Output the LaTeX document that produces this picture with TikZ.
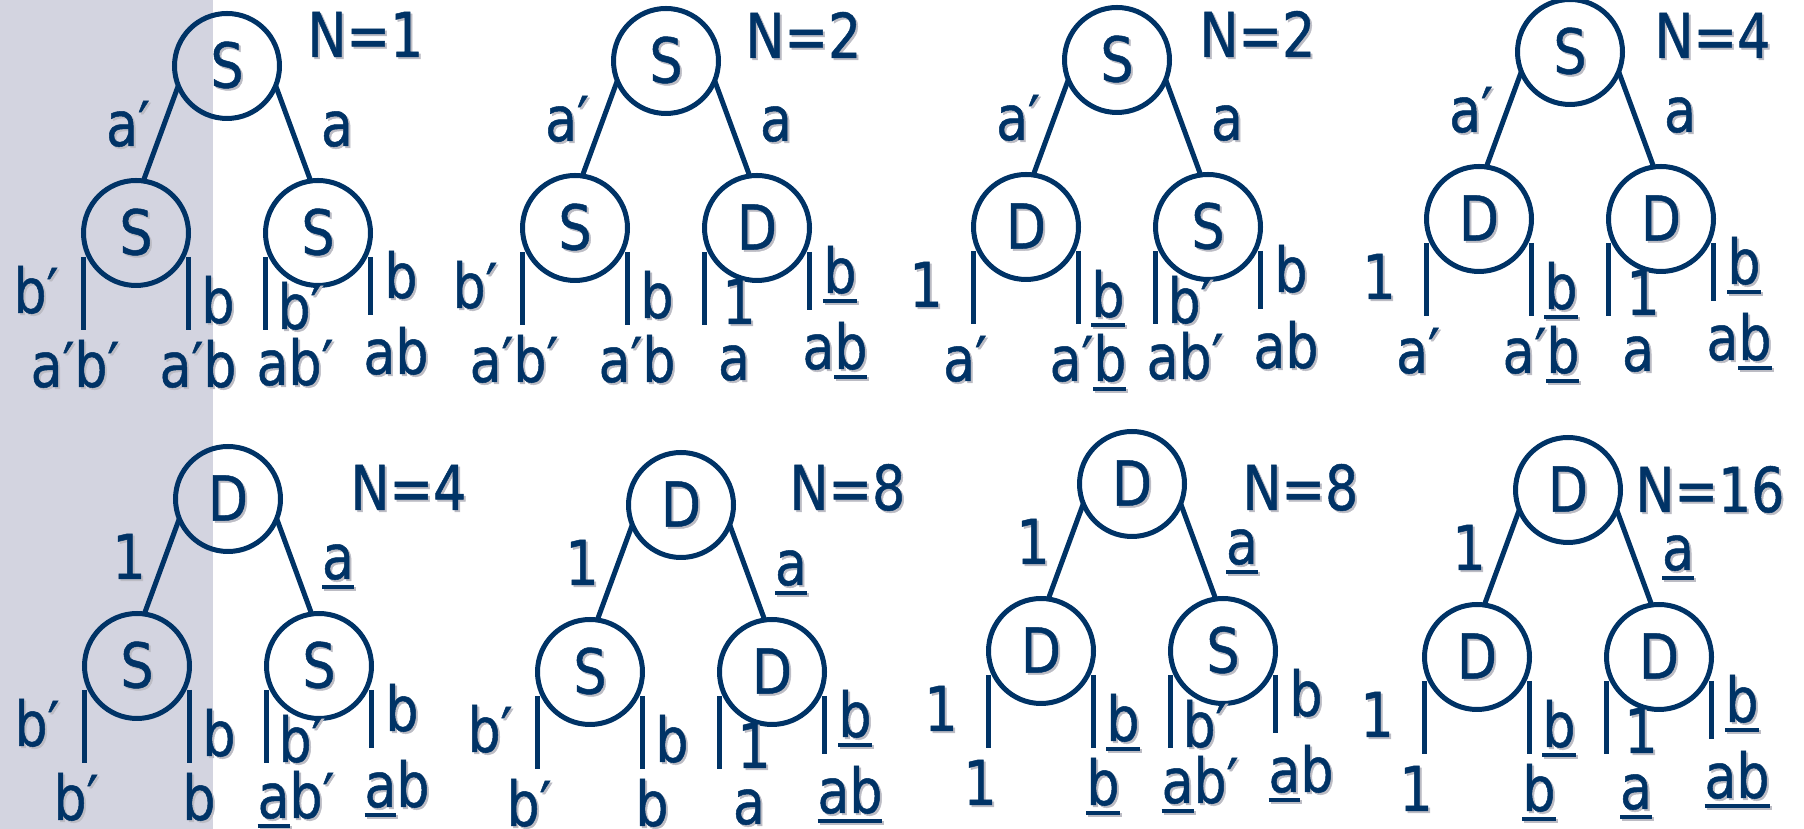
\documentclass[tikz,border=0pt]{standalone}
\usepackage{fontspec}
\setmainfont{DejaVu Sans}[FakeStretch=0.84,FakeBold=0.8]
\usetikzlibrary{positioning}
\definecolor{navyc}{RGB}{0,51,102}
\definecolor{shadowc}{RGB}{188,188,196}
\definecolor{bandc}{RGB}{211,212,224}
\newcommand\treefont{\fontsize{62}{62}\selectfont}
% text with a small grey drop shadow
\newcommand\shd[1]{\makebox[0pt][l]{\kern2pt\raisebox{-2pt}{\color{shadowc}#1}}#1}
\newcommand\ul[1]{\setbox0\hbox{#1}\rlap{\vrule height -6pt depth 10pt width \wd0}\box0}
\tikzset{
  vtx/.style={circle,draw=navyc,line width=5pt,minimum size=105pt,inner sep=0pt,outer sep=0pt,text=navyc,font=\treefont},
  lbl/.style={inner sep=0pt,anchor=base,text=navyc,font=\treefont}
}
\begin{document}
\begin{tikzpicture}[x=1pt,y=1pt,line width=5pt]
\fill[bandc] (0,0) rectangle (213,829);
\useasboundingbox (0,0) rectangle (1804,829);
\foreach \i/\x/\y/\nx/\ny/\n/\r/\p/\q/\ea/\eb/\la/\lb/\lc/\ld/\fa/\fb/\fc/\fd in {
  1/227/763/305/772/N=1/S/S/S/a′/a/b′/b/b′/b/a′b′/a′b/ab′/ab,
  2/666/768/743/771/N=2/S/S/D/a′/a/b′/b/1/\ul{b}/a′b′/a′b/a/a\ul{b},
  3/1117/769/1197/772/N=2/S/D/S/a′/a/1/\ul{b}/b′/b/a′/a′\ul{b}/ab′/ab,
  4/1570/777/1652/771/N=4/S/D/D/a′/a/1/\ul{b}/1/\ul{b}/a′/a′\ul{b}/a/a\ul{b},
  5/228/330/348/319/N=4/D/S/S/1/\ul{a}/b′/b/b′/b/b′/b/\ul{a}b′/\ul{a}b,
  6/681/324/787/319/N=8/D/S/D/1/\ul{a}/b′/b/1/\ul{b}/b′/b/\ul{a}/\ul{ab},
  7/1132/345/1240/319/N=8/D/D/S/1/\ul{a}/1/\ul{b}/b′/b/1/\ul{b}/\ul{a}b′/\ul{a}b,
  8/1568/339/1633/317/N=16/D/D/D/1/\ul{a}/1/\ul{b}/1/\ul{b}/1/\ul{b}/\ul{a}/\ul{ab}} {
  \node[vtx] (s\i) at (\x,\y) {\shd{\r}};
  \node[vtx,on grid,below left=167pt and 91pt of s\i] (u\i) {\shd{\p}};
  \node[vtx,on grid,below right=167pt and 91pt of s\i] (v\i) {\shd{\q}};
  \draw[navyc] (s\i.202) -- (u\i.82);
  \draw[navyc] (s\i.338) -- (v\i.98);
  % legs
  \draw[navyc] ([yshift=-24pt]u\i.west) -- ([yshift=-97pt]u\i.west);
  \draw[navyc] ([yshift=-24pt]u\i.east) -- ([yshift=-97pt]u\i.east);
  \draw[navyc] ([yshift=-24pt]v\i.west) -- ([yshift=-97pt]v\i.west);
  \draw[navyc] ([yshift=-24pt]v\i.east) -- ([yshift=-82pt]v\i.east);
  \node[lbl,anchor=base west] (n\i) at (\nx,\ny) {\shd{\n}};
  \node[lbl] (ea\i) at ([shift={(-99,-80)}]s\i) {\shd{\ea}};
  \node[lbl] (eb\i) at ([shift={(110,-80)}]s\i) {\shd{\eb}};
  \node[lbl] (la\i) at ([shift={(-100,-80)}]u\i) {\shd{\la}};
  \node[lbl] (lb\i) at ([shift={(82,-90)}]u\i) {\shd{\lb}};
  \node[lbl] (lc\i) at ([shift={(-18,-96)}]v\i) {\shd{\lc}};
  \node[lbl] (ld\i) at ([shift={(83,-65)}]v\i) {\shd{\ld}};
  \node[lbl] (fa\i) at ([shift={(-61,-154)}]u\i) {\shd{\fa}};
  \node[lbl] (fb\i) at ([shift={(62,-154)}]u\i) {\shd{\fb}};
  \node[lbl] (fc\i) at ([shift={(-23,-152)}]v\i) {\shd{\fc}};
  \node[lbl] (fd\i) at ([shift={(78,-141)}]v\i) {\shd{\fd}};
}
\end{tikzpicture}
\end{document}
